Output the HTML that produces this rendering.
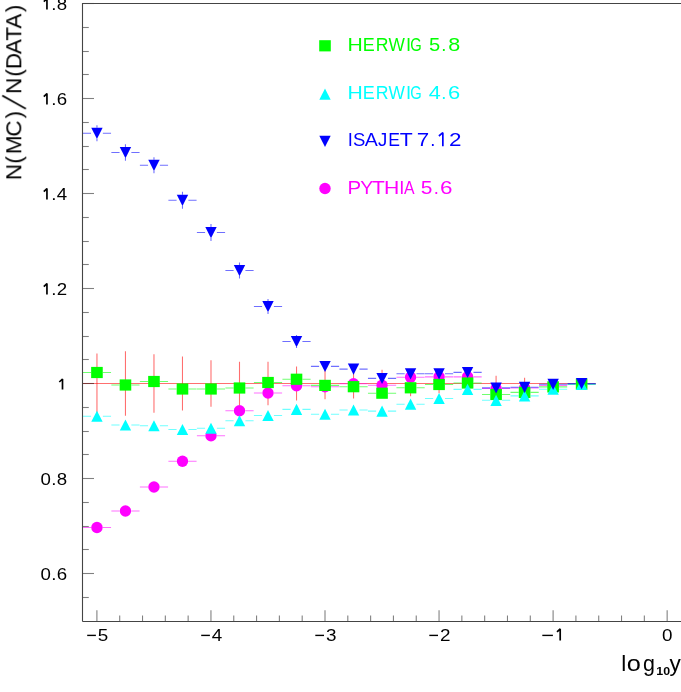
<!DOCTYPE html>
<html><head><meta charset="utf-8"><title>N(MC)/N(DATA)</title>
<style>
html,body{margin:0;padding:0;background:#fff;}
body{width:681px;height:692px;overflow:hidden;}
svg{display:block;font-family:"Liberation Sans",sans-serif;}
.ax{stroke:#444;stroke-width:1.1;fill:none;}
.ti{stroke:#000;stroke-opacity:0.5;stroke-width:1.1;fill:none;}
.tk{font-size:16.4px;fill:#000;letter-spacing:0.3px;}
</style></head><body>
<svg width="681" height="692" viewBox="0 0 681 692">
<rect width="681" height="692" fill="#fff"/>
<g opacity="0.999">

<g stroke="#ff0000" stroke-width="1.1" stroke-opacity="0.57" fill="none">
<path d="M83 383.5H595.72"/>
<path d="M96.95 353.50V413.50"/>
<path d="M125.46 351.25V415.75"/>
<path d="M153.97 354.25V412.75"/>
<path d="M182.48 356.50V410.50"/>
<path d="M210.99 360.25V406.75"/>
<path d="M239.50 361.75V405.25"/>
<path d="M268.01 361.75V405.25"/>
<path d="M296.52 366.50V400.50"/>
<path d="M325.03 367.75V399.25"/>
<path d="M353.54 368.50V398.50"/>
<path d="M382.05 369.75V397.25"/>
<path d="M410.56 370.70V396.30"/>
<path d="M439.07 373.70V393.30"/>
<path d="M467.58 375.00V392.00"/>
<path d="M496.09 375.75V391.25"/>
<path d="M524.60 377.75V389.25"/>
<path d="M553.11 380.50V386.50"/>
<path d="M581.62 381.50V385.50"/>
</g>
<path class="ti" d="M82.5 3.50h11.5"/>
<path class="ti" d="M82.5 27.50h6.3"/>
<path class="ti" d="M82.5 51.50h6.3"/>
<path class="ti" d="M82.5 74.50h6.3"/>
<path class="ti" d="M82.5 98.50h11.5"/>
<path class="ti" d="M82.5 122.50h6.3"/>
<path class="ti" d="M82.5 146.50h6.3"/>
<path class="ti" d="M82.5 169.50h6.3"/>
<path class="ti" d="M82.5 193.50h11.5"/>
<path class="ti" d="M82.5 217.50h6.3"/>
<path class="ti" d="M82.5 241.50h6.3"/>
<path class="ti" d="M82.5 264.50h6.3"/>
<path class="ti" d="M82.5 288.50h11.5"/>
<path class="ti" d="M82.5 312.50h6.3"/>
<path class="ti" d="M82.5 336.50h6.3"/>
<path class="ti" d="M82.5 359.50h6.3"/>
<path class="ti" d="M82.5 383.50h11.5"/>
<path class="ti" d="M82.5 407.50h6.3"/>
<path class="ti" d="M82.5 431.50h6.3"/>
<path class="ti" d="M82.5 454.50h6.3"/>
<path class="ti" d="M82.5 478.50h11.5"/>
<path class="ti" d="M82.5 502.50h6.3"/>
<path class="ti" d="M82.5 526.50h6.3"/>
<path class="ti" d="M82.5 549.50h6.3"/>
<path class="ti" d="M82.5 573.50h11.5"/>
<path class="ti" d="M82.5 597.50h6.3"/>
<path class="ti" d="M96.90 621.5v-11.3"/>
<path class="ti" d="M119.71 621.5v-6"/>
<path class="ti" d="M142.52 621.5v-6"/>
<path class="ti" d="M165.33 621.5v-6"/>
<path class="ti" d="M188.14 621.5v-6"/>
<path class="ti" d="M210.95 621.5v-11.3"/>
<path class="ti" d="M233.76 621.5v-6"/>
<path class="ti" d="M256.57 621.5v-6"/>
<path class="ti" d="M279.38 621.5v-6"/>
<path class="ti" d="M302.19 621.5v-6"/>
<path class="ti" d="M325.00 621.5v-11.3"/>
<path class="ti" d="M347.81 621.5v-6"/>
<path class="ti" d="M370.62 621.5v-6"/>
<path class="ti" d="M393.43 621.5v-6"/>
<path class="ti" d="M416.24 621.5v-6"/>
<path class="ti" d="M439.05 621.5v-11.3"/>
<path class="ti" d="M461.86 621.5v-6"/>
<path class="ti" d="M484.67 621.5v-6"/>
<path class="ti" d="M507.48 621.5v-6"/>
<path class="ti" d="M530.29 621.5v-6"/>
<path class="ti" d="M553.10 621.5v-11.3"/>
<path class="ti" d="M575.91 621.5v-6"/>
<path class="ti" d="M598.72 621.5v-6"/>
<path class="ti" d="M621.53 621.5v-6"/>
<path class="ti" d="M644.34 621.5v-6"/>
<path class="ti" d="M667.15 621.5v-11.3"/>
<path class="ax" d="M82.5 621.5V3.5H690 M82.5 621.5H690"/>
<text class="tk" transform="translate(67.6 10.0) scale(1.14 1)" text-anchor="end">.8</text>
<path d="M43.8 1.7L46.95 -1.4V9.5" stroke="#000" stroke-width="1.7" fill="none" stroke-linejoin="bevel"/>
<text class="tk" transform="translate(67.6 105.0) scale(1.14 1)" text-anchor="end">.6</text>
<path d="M43.8 96.7L46.95 93.6V104.5" stroke="#000" stroke-width="1.7" fill="none" stroke-linejoin="bevel"/>
<text class="tk" transform="translate(67.6 200.0) scale(1.14 1)" text-anchor="end">.4</text>
<path d="M43.8 191.7L46.95 188.6V199.5" stroke="#000" stroke-width="1.7" fill="none" stroke-linejoin="bevel"/>
<text class="tk" transform="translate(67.6 295.0) scale(1.14 1)" text-anchor="end">.2</text>
<path d="M43.8 286.7L46.95 283.6V294.5" stroke="#000" stroke-width="1.7" fill="none" stroke-linejoin="bevel"/>
<path d="M59.3 382.0L62.5 379.0V389.5" stroke="#000" stroke-width="1.7" fill="none" stroke-linejoin="bevel"/>
<text class="tk" transform="translate(67.6 485.0) scale(1.14 1)" text-anchor="end">0.8</text>
<text class="tk" transform="translate(67.6 580.0) scale(1.14 1)" text-anchor="end">0.6</text>
<text class="tk" transform="translate(103.2 640.6) scale(1.15 1)" text-anchor="middle">5</text>
<path d="M87.2 635.4h8.7" stroke="#000" stroke-width="1.4"/>
<text class="tk" transform="translate(217.2 640.6) scale(1.15 1)" text-anchor="middle">4</text>
<path d="M201.2 635.4h8.7" stroke="#000" stroke-width="1.4"/>
<text class="tk" transform="translate(331.3 640.6) scale(1.15 1)" text-anchor="middle">3</text>
<path d="M315.3 635.4h8.7" stroke="#000" stroke-width="1.4"/>
<text class="tk" transform="translate(445.3 640.6) scale(1.15 1)" text-anchor="middle">2</text>
<path d="M429.3 635.4h8.7" stroke="#000" stroke-width="1.4"/>
<path d="M542.3 635.4h10.6" stroke="#000" stroke-width="1.4"/>
<path d="M557.0 631.9L560.2 629V640.5" stroke="#000" stroke-width="1.7" fill="none" stroke-linejoin="bevel"/>
<text class="tk" transform="translate(667.4 640.6) scale(1.15 1)" text-anchor="middle">0</text>
<g transform="translate(21.3 178.2) rotate(-90)" font-size="22.5" fill="#000">
<text x="-1.9 14.6 24.0 41.6 59.8 84.3 101.5 109.0 124.1 137.4 149.6 166.0" y="0">N(MC)N(DATA)</text>
<path d="M69.4 4.6L82.6 -19" stroke="#000" stroke-width="1.7" fill="none"/>
</g>
<g font-size="22.6" fill="#000"><text x="621.3" y="671.3">l</text><text transform="translate(626.8 671.3) scale(1.12 1)">o</text><text transform="translate(643.0 671.3) scale(0.95 1)">g</text></g>
<text transform="translate(656.3 675.2) scale(1.17 1)" font-size="10.6" font-weight="bold" fill="#000">10</text>
<text x="669.6" y="671.3" font-size="22.6" fill="#000">y</text>
<g fill="#ff00ff" stroke="none">
<g stroke="#ff00ff" stroke-width="1.1" stroke-opacity="0.57" fill="none">
<path d="M83.00 527.50H91.05M102.85 527.50H111.05"/>
<path d="M111.36 511.00H119.56M131.36 511.00H139.56"/>
<path d="M139.87 487.00H148.07M159.87 487.00H168.07"/>
<path d="M168.38 461.25H176.58M188.38 461.25H196.58"/>
<path d="M196.89 435.75H205.09M216.89 435.75H225.09"/>
<path d="M225.40 410.75H233.60M245.40 410.75H253.60"/>
<path d="M253.91 393.00H262.11M273.91 393.00H282.11"/>
<path d="M282.42 385.75H290.62M302.42 385.75H310.62"/>
<path d="M310.93 386.75H319.13M330.93 386.75H339.13"/>
<path d="M339.44 383.75H347.64M359.44 383.75H367.64"/>
<path d="M367.95 385.25H376.15M387.95 385.25H396.15"/>
<path d="M396.46 377.30H404.66M416.46 377.30H424.66"/>
<path d="M424.97 376.90H433.17M444.97 376.90H453.17"/>
<path d="M453.48 376.90H461.68M473.48 376.90H481.68"/>
<path d="M481.99 388.50H490.19M501.99 388.50H510.19"/>
<path d="M510.50 388.00H518.70M530.50 388.00H538.70"/>
<path d="M539.01 385.50H547.21M559.01 385.50H567.21"/>
<path d="M567.52 384.00H575.72M587.52 384.00H595.72"/>
</g>
<circle cx="96.95" cy="527.50" r="5.7"/>
<circle cx="125.46" cy="511.00" r="5.7"/>
<circle cx="153.97" cy="487.00" r="5.7"/>
<circle cx="182.48" cy="461.25" r="5.7"/>
<circle cx="210.99" cy="435.75" r="5.7"/>
<circle cx="239.50" cy="410.75" r="5.7"/>
<circle cx="268.01" cy="393.00" r="5.7"/>
<circle cx="296.52" cy="385.75" r="5.7"/>
<circle cx="325.03" cy="386.75" r="5.7"/>
<circle cx="353.54" cy="383.75" r="5.7"/>
<circle cx="382.05" cy="385.25" r="5.7"/>
<circle cx="410.56" cy="377.30" r="5.7"/>
<circle cx="439.07" cy="376.90" r="5.7"/>
<circle cx="467.58" cy="376.90" r="5.7"/>
<circle cx="496.09" cy="388.50" r="5.7"/>
<circle cx="524.60" cy="388.00" r="5.7"/>
<circle cx="553.11" cy="385.50" r="5.7"/>
<circle cx="581.62" cy="384.00" r="5.7"/>
</g>
<g fill="#00ff00" stroke="none">
<g stroke="#00ff00" stroke-width="1.1" stroke-opacity="0.57" fill="none">
<path d="M83.00 372.50H91.05M102.85 372.50H111.05"/>
<path d="M111.36 385.00H119.56M131.36 385.00H139.56"/>
<path d="M139.87 381.50H148.07M159.87 381.50H168.07"/>
<path d="M168.38 389.00H176.58M188.38 389.00H196.58"/>
<path d="M196.89 389.00H205.09M216.89 389.00H225.09"/>
<path d="M225.40 388.00H233.60M245.40 388.00H253.60"/>
<path d="M253.91 382.50H262.11M273.91 382.50H282.11"/>
<path d="M282.42 379.25H290.62M302.42 379.25H310.62"/>
<path d="M310.93 385.40H319.13M330.93 385.40H339.13"/>
<path d="M339.44 386.70H347.64M359.44 386.70H367.64"/>
<path d="M367.95 393.20H376.15M387.95 393.20H396.15"/>
<path d="M396.46 387.80H404.66M416.46 387.80H424.66"/>
<path d="M424.97 384.50H433.17M444.97 384.50H453.17"/>
<path d="M453.48 383.00H461.68M473.48 383.00H481.68"/>
<path d="M481.99 394.50H490.19M501.99 394.50H510.19"/>
<path d="M510.50 392.40H518.70M530.50 392.40H538.70"/>
<path d="M539.01 386.90H547.21M559.01 386.90H567.21"/>
<path d="M567.52 384.10H575.72M587.52 384.10H595.72"/>
</g>
<rect x="91.15" y="366.90" width="11.6" height="11.2"/>
<rect x="119.66" y="379.40" width="11.6" height="11.2"/>
<rect x="148.17" y="375.90" width="11.6" height="11.2"/>
<rect x="176.68" y="383.40" width="11.6" height="11.2"/>
<rect x="205.19" y="383.40" width="11.6" height="11.2"/>
<rect x="233.70" y="382.40" width="11.6" height="11.2"/>
<rect x="262.21" y="376.90" width="11.6" height="11.2"/>
<rect x="290.72" y="373.65" width="11.6" height="11.2"/>
<rect x="319.23" y="379.80" width="11.6" height="11.2"/>
<rect x="347.74" y="381.10" width="11.6" height="11.2"/>
<rect x="376.25" y="387.60" width="11.6" height="11.2"/>
<rect x="404.76" y="382.20" width="11.6" height="11.2"/>
<rect x="433.27" y="378.90" width="11.6" height="11.2"/>
<rect x="461.78" y="377.40" width="11.6" height="11.2"/>
<rect x="490.29" y="388.90" width="11.6" height="11.2"/>
<rect x="518.80" y="386.80" width="11.6" height="11.2"/>
<rect x="547.31" y="381.30" width="11.6" height="11.2"/>
<rect x="575.82" y="378.50" width="11.6" height="11.2"/>
</g>
<g fill="#00ffff" stroke="none">
<g stroke="#00ffff" stroke-width="1.1" stroke-opacity="0.57" fill="none">
<path d="M83.00 416.25H91.05M102.85 416.25H111.05"/>
<path d="M111.36 425.00H119.56M131.36 425.00H139.56"/>
<path d="M139.87 425.75H148.07M159.87 425.75H168.07"/>
<path d="M168.38 429.50H176.58M188.38 429.50H196.58"/>
<path d="M196.89 428.25H205.09M216.89 428.25H225.09"/>
<path d="M225.40 420.75H233.60M245.40 420.75H253.60"/>
<path d="M253.91 415.50H262.11M273.91 415.50H282.11"/>
<path d="M282.42 409.40H290.62M302.42 409.40H310.62"/>
<path d="M310.93 414.25H319.13M330.93 414.25H339.13"/>
<path d="M339.44 410.00H347.64M359.44 410.00H367.64"/>
<path d="M367.95 411.10H376.15M387.95 411.10H396.15"/>
<path d="M396.46 404.20H404.66M416.46 404.20H424.66"/>
<path d="M424.97 398.50H433.17M444.97 398.50H453.17"/>
<path d="M453.48 389.40H461.68M473.48 389.40H481.68"/>
<path d="M481.99 400.30H490.19M501.99 400.30H510.19"/>
<path d="M510.50 395.90H518.70M530.50 395.90H538.70"/>
<path d="M539.01 389.20H547.21M559.01 389.20H567.21"/>
<path d="M567.52 384.30H575.72M587.52 384.30H595.72"/>
</g>
<path d="M96.95 410.65L102.65 421.85H91.25Z"/>
<path d="M125.46 419.40L131.16 430.60H119.76Z"/>
<path d="M153.97 420.15L159.67 431.35H148.27Z"/>
<path d="M182.48 423.90L188.18 435.10H176.78Z"/>
<path d="M210.99 422.65L216.69 433.85H205.29Z"/>
<path d="M239.50 415.15L245.20 426.35H233.80Z"/>
<path d="M268.01 409.90L273.71 421.10H262.31Z"/>
<path d="M296.52 403.80L302.22 415.00H290.82Z"/>
<path d="M325.03 408.65L330.73 419.85H319.33Z"/>
<path d="M353.54 404.40L359.24 415.60H347.84Z"/>
<path d="M382.05 405.50L387.75 416.70H376.35Z"/>
<path d="M410.56 398.60L416.26 409.80H404.86Z"/>
<path d="M439.07 392.90L444.77 404.10H433.37Z"/>
<path d="M467.58 383.80L473.28 395.00H461.88Z"/>
<path d="M496.09 394.70L501.79 405.90H490.39Z"/>
<path d="M524.60 390.30L530.30 401.50H518.90Z"/>
<path d="M553.11 383.60L558.81 394.80H547.41Z"/>
<path d="M581.62 378.70L587.32 389.90H575.92Z"/>
</g>
<g fill="#0000ff" stroke="none">
<g stroke="#0000ff" stroke-width="1.1" stroke-opacity="0.57" fill="none">
<path d="M83.00 133.25H91.05M102.85 133.25H111.05"/>
<path d="M96.95 125.25V127.65M96.95 138.85V141.25"/>
<path d="M111.36 152.50H119.56M131.36 152.50H139.56"/>
<path d="M125.46 144.25V146.90M125.46 158.10V160.75"/>
<path d="M139.87 165.25H148.07M159.87 165.25H168.07"/>
<path d="M153.97 157.25V159.65M153.97 170.85V173.25"/>
<path d="M168.38 200.25H176.58M188.38 200.25H196.58"/>
<path d="M182.48 191.65V194.65M182.48 205.85V208.85"/>
<path d="M196.89 232.50H205.09M216.89 232.50H225.09"/>
<path d="M210.99 224.00V226.90M210.99 238.10V241.00"/>
<path d="M225.40 270.50H233.60M245.40 270.50H253.60"/>
<path d="M239.50 262.50V264.90M239.50 276.10V278.50"/>
<path d="M253.91 306.50H262.11M273.91 306.50H282.11"/>
<path d="M268.01 299.00V300.90M268.01 312.10V314.00"/>
<path d="M282.42 341.50H290.62M302.42 341.50H310.62"/>
<path d="M296.52 334.90V335.90M296.52 347.10V348.10"/>
<path d="M310.93 366.40H319.13M330.93 366.40H339.13"/>
<path d="M339.44 369.10H347.64M359.44 369.10H367.64"/>
<path d="M367.95 378.40H376.15M387.95 378.40H396.15"/>
<path d="M396.46 373.80H404.66M416.46 373.80H424.66"/>
<path d="M424.97 373.80H433.17M444.97 373.80H453.17"/>
<path d="M453.48 372.40H461.68M473.48 372.40H481.68"/>
<path d="M481.99 387.90H490.19M501.99 387.90H510.19"/>
<path d="M510.50 387.20H518.70M530.50 387.20H538.70"/>
<path d="M539.01 384.20H547.21M559.01 384.20H567.21"/>
<path d="M567.52 383.60H575.72M587.52 383.60H595.72"/>
</g>
<path d="M96.95 138.95L102.65 127.75H91.25Z"/>
<path d="M125.46 158.20L131.16 147.00H119.76Z"/>
<path d="M153.97 170.95L159.67 159.75H148.27Z"/>
<path d="M182.48 205.95L188.18 194.75H176.78Z"/>
<path d="M210.99 238.20L216.69 227.00H205.29Z"/>
<path d="M239.50 276.20L245.20 265.00H233.80Z"/>
<path d="M268.01 312.20L273.71 301.00H262.31Z"/>
<path d="M296.52 347.20L302.22 336.00H290.82Z"/>
<path d="M325.03 372.10L330.73 360.90H319.33Z"/>
<path d="M353.54 374.80L359.24 363.60H347.84Z"/>
<path d="M382.05 384.10L387.75 372.90H376.35Z"/>
<path d="M410.56 379.50L416.26 368.30H404.86Z"/>
<path d="M439.07 379.50L444.77 368.30H433.37Z"/>
<path d="M467.58 378.10L473.28 366.90H461.88Z"/>
<path d="M496.09 393.60L501.79 382.40H490.39Z"/>
<path d="M524.60 392.90L530.30 381.70H518.90Z"/>
<path d="M553.11 389.90L558.81 378.70H547.41Z"/>
<path d="M581.62 389.30L587.32 378.10H575.92Z"/>
</g>
<g fill="#00ff00"><rect x="319.20" y="40.20" width="11.6" height="11.2"/><text transform="translate(347.43 51.0) scale(1.152 1)" font-size="18.4">H</text><text transform="translate(362.77 51.0) scale(0.976 1)" font-size="18.4">E</text><text transform="translate(375.78 51.0) scale(0.961 1)" font-size="18.4">R</text><text transform="translate(388.61 51.0) scale(0.942 1)" font-size="18.4">W</text><text transform="translate(405.89 51.0) scale(1.000 1)" font-size="18.4">I</text><text transform="translate(410.25 51.0) scale(0.800 1)" font-size="18.4">G</text><text transform="translate(428.92 51.0) scale(1.094 1)" font-size="18.4">5</text><text transform="translate(441.30 51.0) scale(1.000 1)" font-size="18.4">.</text><text transform="translate(448.26 51.0) scale(1.172 1)" font-size="18.4">8</text></g>
<g fill="#00ffff"><path d="M325.00 88.50L330.70 99.70H319.30Z"/><text transform="translate(347.43 98.8) scale(1.152 1)" font-size="18.4">H</text><text transform="translate(362.77 98.8) scale(0.976 1)" font-size="18.4">E</text><text transform="translate(375.78 98.8) scale(0.961 1)" font-size="18.4">R</text><text transform="translate(388.61 98.8) scale(0.942 1)" font-size="18.4">W</text><text transform="translate(405.89 98.8) scale(1.000 1)" font-size="18.4">I</text><text transform="translate(410.25 98.8) scale(0.800 1)" font-size="18.4">G</text><text transform="translate(428.85 98.8) scale(1.174 1)" font-size="18.4">4</text><text transform="translate(441.30 98.8) scale(1.000 1)" font-size="18.4">.</text><text transform="translate(448.09 98.8) scale(1.192 1)" font-size="18.4">6</text></g>
<g fill="#0000ff"><path d="M325.00 147.00L330.70 135.80H319.30Z"/><text transform="translate(347.66 146.2) scale(1.000 1)" font-size="18.4">I</text><text transform="translate(352.90 146.2) scale(1.009 1)" font-size="18.4">S</text><text transform="translate(364.78 146.2) scale(1.064 1)" font-size="18.4">A</text><text transform="translate(377.89 146.2) scale(1.012 1)" font-size="18.4">J</text><text transform="translate(388.19 146.2) scale(0.957 1)" font-size="18.4">E</text><text transform="translate(399.66 146.2) scale(1.156 1)" font-size="18.4">T</text><text transform="translate(416.70 146.2) scale(1.220 1)" font-size="18.4">7</text><text transform="translate(430.24 146.2) scale(1.000 1)" font-size="18.4">.</text><text transform="translate(449.01 146.2) scale(1.220 1)" font-size="18.4">2</text><path d="M438.9 136L442.85 132.7V146.3" stroke="#0000ff" stroke-width="1.7" fill="none" stroke-linejoin="bevel"/></g>
<g fill="#ff00ff"><circle cx="325.00" cy="188.50" r="5.7"/><text transform="translate(347.49 193.7) scale(1.111 1)" font-size="18.4">P</text><text transform="translate(360.19 193.7) scale(1.066 1)" font-size="18.4">Y</text><text transform="translate(371.98 193.7) scale(1.138 1)" font-size="18.4">T</text><text transform="translate(384.08 193.7) scale(1.152 1)" font-size="18.4">H</text><text transform="translate(399.20 193.7) scale(1.000 1)" font-size="18.4">I</text><text transform="translate(403.92 193.7) scale(0.861 1)" font-size="18.4">A</text><text transform="translate(420.87 193.7) scale(1.138 1)" font-size="18.4">5</text><text transform="translate(433.66 193.7) scale(1.000 1)" font-size="18.4">.</text><text transform="translate(440.11 193.7) scale(1.220 1)" font-size="18.4">6</text></g>
</g></svg></body></html>
